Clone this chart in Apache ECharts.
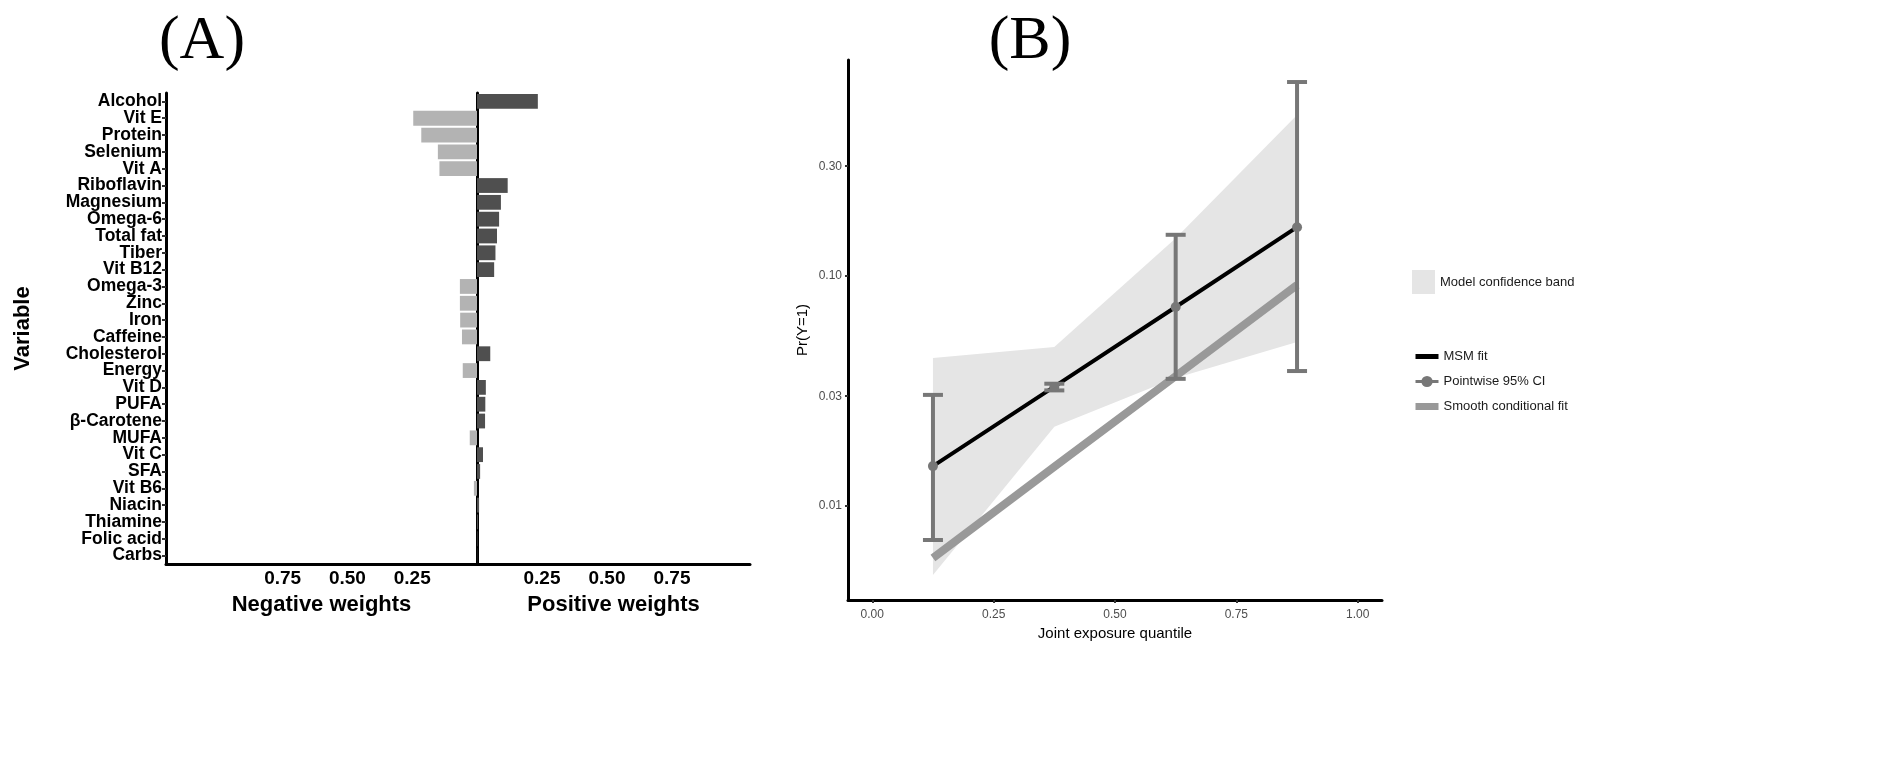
<!DOCTYPE html>
<html>
<head>
<meta charset="utf-8">
<script src="https://cdn.jsdelivr.net/npm/echarts@6/dist/echarts.min.js"></script>
<style>
html,body{margin:0;padding:0;background:#fff;}
#chart{width:1902px;height:778px;}
</style>
</head>
<body>
<div id="chart"></div>
<script>
// ---------- Panel A data ----------
const variables = ['Alcohol','Vit E','Protein','Selenium','Vit A','Riboflavin','Magnesium','Omega-6','Total fat','Tiber','Vit B12','Omega-3','Zinc','Iron','Caffeine','Cholesterol','Energy','Vit D','PUFA','β-Carotene','MUFA','Vit C','SFA','Vit B6','Niacin','Thiamine','Folic acid','Carbs'];
const weights = [0.234,-0.246,-0.215,-0.151,-0.145,0.118,0.092,0.085,0.077,0.071,0.066,-0.066,-0.066,-0.065,-0.058,0.051,-0.055,0.034,0.032,0.031,-0.028,0.023,0.012,-0.012,0.008,0.004,0.002,0.001];
const weightTicks = [0.25,0.5,0.75];

// ---------- Panel B data ----------
const quantiles = [0.125,0.375,0.625,0.875];
const msmFit = [0.0149,0.0330,0.0733,0.163];
const pointEst = [0.0149,0.0329,0.0733,0.163];
const ciLower = [0.00711,0.0318,0.0357,0.0386];
const ciUpper = [0.0304,0.0340,0.151,0.697];
const bandLower = [0.00501,0.0221,0.0360,0.0516];
const bandUpper = [0.0440,0.0491,0.146,0.501];
const smoothFit = [0.00594,0.0148,0.0367,0.0914];
const probTicks = [0.01,0.03,0.1,0.3];
const quantileTicks = [0,0.25,0.5,0.75,1];

const SANS = "'Liberation Sans', Arial, Helvetica, sans-serif";
const SERIF = "'Liberation Serif', 'Times New Roman', serif";

const negData = weights.map(w => (w < 0 ? -w : '-'));
const posData = weights.map(w => (w > 0 ? w : '-'));

const chart = echarts.init(document.getElementById('chart'), null, {renderer: 'canvas'});

const catAxis = (grid) => ({
  gridIndex: grid,
  type: 'category',
  data: variables,
  inverse: true,
  axisLine: {show: true, onZero: false, lineStyle: {color: '#000', width: 3}},
  splitLine: {show: false}
});

const weightAxis = (grid, inverse, max, name) => ({
  gridIndex: grid,
  type: 'value',
  inverse: inverse,
  min: 0,
  max: max,
  name: name,
  nameLocation: 'middle',
  nameGap: 30,
  nameTextStyle: {fontFamily: SANS, fontWeight: 'bold', fontSize: 22, color: '#000'},
  axisLine: {show: true, onZero: false, lineStyle: {color: '#000', width: 3}},
  axisTick: {show: false},
  splitLine: {show: false},
  axisLabel: {
    customValues: weightTicks,
    formatter: v => v.toFixed(2),
    fontFamily: SANS, fontWeight: 'bold', fontSize: 19, color: '#000', margin: 5
  }
});

const option = {
  animation: false,
  backgroundColor: '#fff',
  textStyle: {fontFamily: SANS},
  title: [
    {text: '(A)', left: 197, top: 6, textAlign: 'center',
     textStyle: {fontFamily: SERIF, fontSize: 62, fontWeight: 'normal', color: '#000'}},
    {text: '(B)', left: 1025, top: 6, textAlign: 'center',
     textStyle: {fontFamily: SERIF, fontSize: 62, fontWeight: 'normal', color: '#000'}}
  ],
  grid: [
    {left: 166, top: 93, width: 311, height: 471},
    {left: 477, top: 93, width: 273, height: 471},
    {left: 848, top: 60, width: 534, height: 540}
  ],
  xAxis: [
    weightAxis(0, true, 1.2, 'Negative weights'),
    weightAxis(1, false, 1.05, 'Positive weights'),
    {
      gridIndex: 2, type: 'value', min: -0.05, max: 1.05,
      name: 'Joint exposure quantile', nameLocation: 'middle', nameGap: 26,
      nameTextStyle: {fontFamily: SANS, fontSize: 15, color: '#000'},
      axisLine: {show: true, onZero: false, lineStyle: {color: '#000', width: 3}},
      axisTick: {show: true, customValues: quantileTicks, length: 3, lineStyle: {color: '#333', width: 2}},
      axisLabel: {customValues: quantileTicks, formatter: v => v.toFixed(2),
                  fontFamily: SANS, fontSize: 12, color: '#4d4d4d', margin: 9},
      splitLine: {show: false}
    }
  ],
  yAxis: [
    Object.assign(catAxis(0), {
      name: 'Variable', nameLocation: 'middle', nameRotate: 90, nameGap: 132,
      nameTextStyle: {fontFamily: SANS, fontWeight: 'bold', fontSize: 22, color: '#000'},
      axisTick: {show: true, interval: 0, length: 4, alignWithLabel: true, lineStyle: {color: '#333', width: 2}},
      axisLabel: {interval: 0, fontFamily: SANS, fontWeight: 'bold', fontSize: 17.5, color: '#000', margin: 4}
    }),
    Object.assign(catAxis(1), {
      axisTick: {show: false},
      axisLabel: {show: false}
    }),
    {
      gridIndex: 2, type: 'log', logBase: 10, min: 0.0039, max: 0.869,
      name: 'Pr(Y=1)', nameLocation: 'middle', nameRotate: 90, nameGap: 38,
      nameTextStyle: {fontFamily: SANS, fontSize: 15, color: '#000'},
      axisLine: {show: true, onZero: false, lineStyle: {color: '#000', width: 3}},
      axisTick: {show: true, customValues: probTicks, length: 3, lineStyle: {color: '#333', width: 2}},
      axisLabel: {customValues: probTicks, formatter: v => Number(v).toFixed(2),
                  fontFamily: SANS, fontSize: 12, color: '#4d4d4d', margin: 6},
      splitLine: {show: false}
    }
  ],
  legend: [
    {
      data: [{name: 'Model confidence band', icon: 'rect'}],
      left: 1407, top: 265, itemWidth: 23, itemHeight: 24,
      selectedMode: false,
      textStyle: {fontFamily: SANS, fontSize: 13, color: '#1a1a1a'}
    },
    {
      data: [
        {name: 'MSM fit', itemStyle: {opacity: 0}, lineStyle: {width: 5, color: '#000'}},
        {name: 'Pointwise 95% CI', lineStyle: {width: 3, opacity: 1, color: '#777777'}},
        {name: 'Smooth conditional fit', itemStyle: {opacity: 0}, lineStyle: {width: 7, color: '#999999'}}
      ],
      orient: 'vertical', left: 1407, top: 345, itemWidth: 23, itemHeight: 14, itemGap: 12,
      selectedMode: false,
      textStyle: {fontFamily: SANS, fontSize: 13, color: '#1a1a1a'}
    }
  ],
  series: [
    {type: 'bar', name: 'Negative', xAxisIndex: 0, yAxisIndex: 0, data: negData,
     barCategoryGap: '12%', itemStyle: {color: '#b3b3b3'}},
    {type: 'bar', name: 'Positive', xAxisIndex: 1, yAxisIndex: 1, data: posData,
     barCategoryGap: '12%', itemStyle: {color: '#4f4f4f'}},
    {
      type: 'custom', name: 'Model confidence band', xAxisIndex: 2, yAxisIndex: 2,
      data: quantiles.map((q, i) => [q, bandLower[i], bandUpper[i]]),
      encode: {x: 0, y: [1, 2]},
      itemStyle: {color: '#e5e5e5'}, z: 1, silent: true,
      renderItem: (params, api) => {
        if (params.dataIndex !== 0) return null;
        const pts = [];
        for (let i = 0; i < quantiles.length; i++) pts.push(api.coord([quantiles[i], bandUpper[i]]));
        for (let i = quantiles.length - 1; i >= 0; i--) pts.push(api.coord([quantiles[i], bandLower[i]]));
        return {type: 'polygon', shape: {points: pts}, style: {fill: '#e5e5e5'}};
      }
    },
    {type: 'line', name: 'Smooth conditional fit', xAxisIndex: 2, yAxisIndex: 2,
     data: quantiles.map((q, i) => [q, smoothFit[i]]), symbol: 'none',
     lineStyle: {color: '#999999', width: 8}, itemStyle: {color: '#999999'}, z: 2},
    {type: 'line', name: 'MSM fit', xAxisIndex: 2, yAxisIndex: 2,
     data: quantiles.map((q, i) => [q, msmFit[i]]), symbol: 'none',
     lineStyle: {color: '#000', width: 4}, itemStyle: {color: '#000'}, z: 3},
    {
      type: 'custom', name: 'CI bars', xAxisIndex: 2, yAxisIndex: 2,
      data: quantiles.map((q, i) => [q, ciLower[i], ciUpper[i]]),
      encode: {x: 0, y: [1, 2]}, z: 4, silent: true,
      renderItem: (params, api) => {
        const lo = api.coord([api.value(0), api.value(1)]);
        const hi = api.coord([api.value(0), api.value(2)]);
        const c = 10;
        const st = {stroke: '#777777', lineWidth: 4};
        return {type: 'group', children: [
          {type: 'line', shape: {x1: lo[0], y1: lo[1], x2: hi[0], y2: hi[1]}, style: st},
          {type: 'line', shape: {x1: lo[0] - c, y1: lo[1], x2: lo[0] + c, y2: lo[1]}, style: st},
          {type: 'line', shape: {x1: hi[0] - c, y1: hi[1], x2: hi[0] + c, y2: hi[1]}, style: st}
        ]};
      }
    },
    {type: 'line', name: 'Pointwise 95% CI', xAxisIndex: 2, yAxisIndex: 2,
     data: quantiles.map((q, i) => [q, pointEst[i]]), symbol: 'circle', symbolSize: 10,
     showSymbol: true, lineStyle: {opacity: 0, width: 0, color: '#777777'},
     itemStyle: {color: '#777777'}, z: 5}
  ]
};

chart.setOption(option);
</script>
</body>
</html>
